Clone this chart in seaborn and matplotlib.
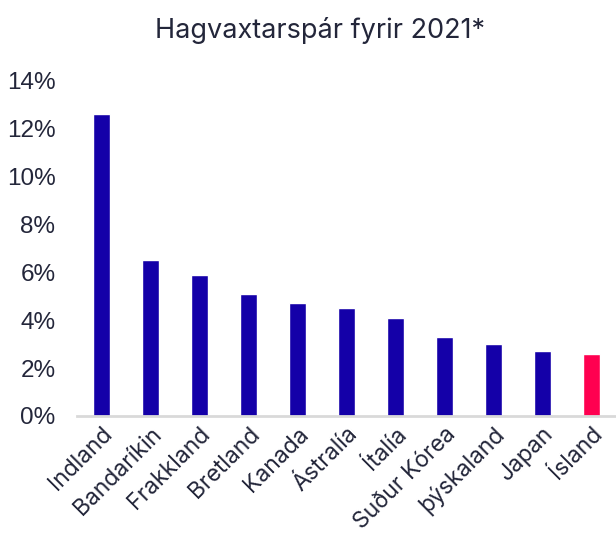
import matplotlib
matplotlib.use("Agg")
import matplotlib.pyplot as plt
import seaborn as sns
import pandas as pd
from matplotlib.ticker import PercentFormatter

countries = ["Indland", "Bandaríkin", "Frakkland", "Bretland", "Kanada", "Ástralía",
             "Ítalía", "Suður Kórea", "þýskaland", "Japan", "Ísland"]
growth = [12.6, 6.5, 5.9, 5.1, 4.7, 4.5, 4.1, 3.3, 3.0, 2.7, 2.6]
colors = ["#1400a8"] * 10 + ["#ff0050"]

df = pd.DataFrame({"land": countries, "vöxtur": growth})

sns.set_theme(style="white")
plt.rcParams['font.family'] = ['Inter', 'DejaVu Sans']
text_color = "#23263a"

fig = plt.figure(figsize=(6.16, 5.38), dpi=100)
ax = fig.add_axes([0.125, 0.2268, 0.875, 0.624])

sns.barplot(data=df, x="land", y="vöxtur", hue="land", palette=colors,
            legend=False, width=0.33, ax=ax, saturation=1)

ax.set_ylim(0, 14)
ax.set_yticks([0, 2, 4, 6, 8, 10, 12, 14])
ax.yaxis.set_major_formatter(PercentFormatter(decimals=0))
ax.set_xlim(-0.5, 10.5)
ax.set_xlabel("")
ax.set_ylabel("")
for s in ["top", "right", "left"]:
    ax.spines[s].set_visible(False)
ax.spines["bottom"].set_color("#d9d9d9")
ax.spines["bottom"].set_linewidth(2)
ax.tick_params(axis="y", length=0, labelcolor=text_color, pad=15.5)
ax.tick_params(axis="x", length=0, labelcolor=text_color, pad=5)
for lab in ax.get_yticklabels():
    lab.set_fontfamily(['Liberation Sans', 'DejaVu Sans'])
    lab.set_fontsize(17.5)
for lab in ax.get_xticklabels():
    lab.set_fontsize(16.5)
    lab.set_rotation(45)
    lab.set_ha("right")
    lab.set_rotation_mode("anchor")

fig.text(0.52, 0.943, "Hagvaxtarspár fyrir 2021*", ha="center", va="center",
         fontsize=19.5, color=text_color)

fig.savefig("out.png", dpi=100)
